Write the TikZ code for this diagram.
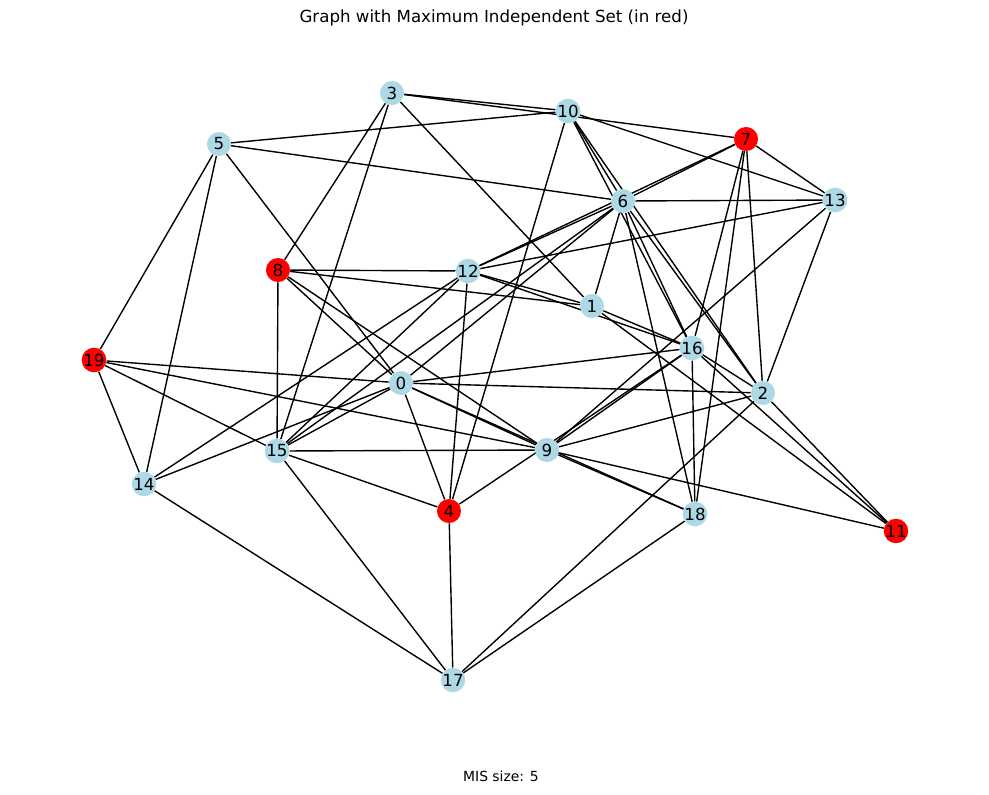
\documentclass[tikz,border=0pt]{standalone}
\usepackage{fontspec}
\setmainfont{DejaVu Sans}
\usepackage{tikz}
\usetikzlibrary{backgrounds}
\definecolor{lightblue}{HTML}{ADD8E6}
\definecolor{misred}{HTML}{FF0000}

\begin{document}
\begin{tikzpicture}[x=0.72pt,y=-0.72pt,
		vtx/.style={circle,fill=lightblue,minimum size=17.3pt,inner sep=0pt,font=\fontsize{12}{14}\selectfont},
		misvtx/.style={vtx,fill=misred},
		link/.style={black,line width=1pt}]
			\useasboundingbox (0,0) rectangle (989,794);
			
			% draw title and caption
			\node (title) at (494,18) {\fontsize{12}{14}\selectfont Graph with Maximum Independent Set (in red)};
			\node (caption) at (501,776) {\fontsize{10}{12}\selectfont MIS size: 5};
			
			% draw nodes
			\node[vtx] (n0) at (401,383) {0};
			\node[vtx] (n1) at (592,306) {1};
			\node[vtx] (n2) at (763,393) {2};
			\node[vtx] (n3) at (392,93) {3};
			\node[misvtx] (n4) at (449,511) {4};
			\node[vtx] (n5) at (219,144) {5};
			\node[vtx] (n6) at (623,201) {6};
			\node[misvtx] (n7) at (746,139) {7};
			\node[misvtx] (n8) at (278,270) {8};
			\node[vtx] (n9) at (547,450) {9};
			\node[vtx] (n10) at (568,111) {10};
			\node[misvtx] (n11) at (896,531) {11};
			\node[vtx] (n12) at (468,271) {12};
			\node[vtx] (n13) at (835,200) {13};
			\node[vtx] (n14) at (144,484) {14};
			\node[vtx] (n15) at (277,451) {15};
			\node[vtx] (n16) at (692,348) {16};
			\node[vtx] (n17) at (453,680) {17};
			\node[vtx] (n18) at (695,514) {18};
			\node[misvtx] (n19) at (94,360) {19};
			
			% draw edges
			\begin{scope}[on background layer]
			\foreach \a/\b in {3/10,3/7,3/8,3/15,3/1,
				5/10,5/6,5/0,5/19,5/14,
				10/13,10/6,10/16,10/2,10/4,
				7/13,7/6,7/12,7/16,7/18,7/2,
				6/13,6/12,6/0,6/15,6/1,6/18,6/16,6/2,
				13/12,13/9,13/2,
				8/12,8/1,8/0,8/9,8/15,
				12/1,12/16,12/14,12/15,12/4,
				1/16,1/11,
				16/0,16/2,16/11,16/18,16/9,16/4,
				19/0,19/9,19/15,19/14,
				0/15,0/14,0/2,0/9,0/18,0/4,
				2/9,2/17,2/11,
				15/9,15/4,15/17,
				9/11,9/18,
				14/17,4/17,18/17}
				\draw[link] (n\a) -- (n\b);
			\end{scope}
			
		\end{tikzpicture}
\end{document}
